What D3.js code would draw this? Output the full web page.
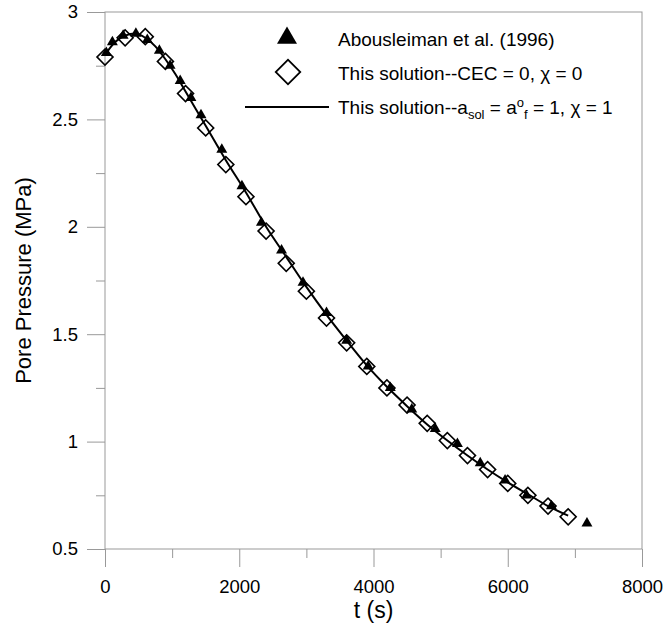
<!DOCTYPE html>
<html><head><meta charset="utf-8">
<script src="https://cdn.jsdelivr.net/npm/d3@7"></script>
<style>body{margin:0;background:#fff}svg{display:block;font-family:"Liberation Sans",Arial,sans-serif}</style>
</head><body><svg id="c" width="666" height="629"></svg>
<script>
// Data
const triT = [20, 110, 270, 460, 630, 810, 970, 1120, 1280, 1430, 1740, 2040, 2330, 2630, 2950, 3300, 3600, 3920, 4250, 4570, 4920, 5250, 5590, 5960, 6280, 6650, 7180];
const triP = [2.81, 2.86, 2.89, 2.90, 2.87, 2.82, 2.75, 2.68, 2.60, 2.52, 2.36, 2.19, 2.02, 1.89, 1.74, 1.60, 1.47, 1.35, 1.25, 1.15, 1.06, 0.99, 0.90, 0.82, 0.75, 0.70, 0.62];
const diaT = [0, 300, 600, 900, 1200, 1500, 1800, 2100, 2400, 2700, 3000, 3300, 3600, 3900, 4200, 4500, 4800, 5100, 5400, 5700, 6000, 6300, 6600, 6900];
const diaP = [2.79, 2.88, 2.885, 2.77, 2.62, 2.46, 2.29, 2.14, 1.98, 1.83, 1.70, 1.575, 1.46, 1.35, 1.25, 1.17, 1.085, 1.005, 0.935, 0.87, 0.805, 0.75, 0.70, 0.65];
const lineT = [0, 150, 300, 450, 600, 750, 900, 1050, 1200, 1500, 1800, 2100, 2400, 2700, 3000, 3300, 3600, 3900, 4200, 4500, 4800, 5100, 5400, 5700, 6000, 6300, 6600, 6900];
const lineP = [2.80, 2.86, 2.89, 2.90, 2.88, 2.84, 2.78, 2.71, 2.63, 2.47, 2.31, 2.16, 2.00, 1.86, 1.72, 1.59, 1.47, 1.355, 1.255, 1.165, 1.08, 1.005, 0.935, 0.87, 0.81, 0.755, 0.70, 0.655];
const xMajor = [0, 2000, 4000, 6000, 8000];
const xMinor = [1000, 3000, 5000, 7000];
const yMajor = [0.5, 1, 1.5, 2, 2.5, 3];
const yMinor = [0.75, 1.25, 1.75, 2.25, 2.75];

const svg = d3.select("#c");
const x = d3.scaleLinear().domain([0, 8000]).range([105, 642]);
const y = d3.scaleLinear().domain([0.5, 3]).range([549, 12]);
const grey = "#999";
const fs = 18.5;

// frame
svg.append("rect").attr("x", x(0)).attr("y", y(3)).attr("width", x(8000) - x(0)).attr("height", y(0.5) - y(3))
  .attr("fill", "none").attr("stroke", grey).attr("stroke-width", 1);

function styleAxis(g) {
  g.select(".domain").remove();
  g.selectAll("line").attr("stroke", grey);
  g.selectAll("text").attr("fill", "#000").style("font-size", fs + "px").style("font-family", '"Liberation Sans",Arial,sans-serif');
}
svg.append("g").attr("transform", `translate(0,${y(0.5)})`)
  .call(d3.axisBottom(x).tickValues(xMinor).tickSize(9).tickFormat(""))
  .call(styleAxis);
svg.append("g").attr("transform", `translate(0,${y(0.5)})`)
  .call(d3.axisBottom(x).tickValues(xMajor).tickSize(18).tickPadding(13).tickFormat(d3.format("d")))
  .call(styleAxis);
svg.append("g").attr("transform", `translate(${x(0)},0)`)
  .call(d3.axisLeft(y).tickValues(yMinor).tickSize(9).tickFormat(""))
  .call(styleAxis);
svg.append("g").attr("transform", `translate(${x(0)},0)`)
  .call(d3.axisLeft(y).tickValues(yMajor).tickSize(18).tickPadding(9).tickFormat(d => String(d)))
  .call(styleAxis);

// titles
svg.append("text").attr("x", (x(0) + x(8000)) / 2).attr("y", 618).attr("text-anchor", "middle")
  .style("font-size", "23px").text("t (s)");
svg.append("text").attr("transform", `translate(31,${(y(0.5) + y(3)) / 2}) rotate(-90)`).attr("text-anchor", "middle")
  .style("font-size", "22px").text("Pore Pressure (MPa)");

// series
const dia = diaT.map((t, i) => [t, diaP[i]]);
const tri = triT.map((t, i) => [t, triP[i]]);
const ln = lineT.map((t, i) => [t, lineP[i]]);

svg.append("g").selectAll("path").data(dia).join("path")
  .attr("d", d3.symbol(d3.symbolSquare, 128))
  .attr("transform", d => `translate(${x(d[0])},${y(d[1])}) rotate(45)`)
  .attr("fill", "none").attr("stroke", "#000").attr("stroke-width", 1.6);

svg.append("g").selectAll("path").data(tri).join("path")
  .attr("d", d3.symbol(d3.symbolTriangle, 52))
  .attr("transform", d => `translate(${x(d[0])},${y(d[1])})`)
  .attr("fill", "#000");

svg.append("path").datum(ln)
  .attr("d", d3.line().x(d => x(d[0])).y(d => y(d[1])).curve(d3.curveMonotoneX))
  .attr("fill", "none").attr("stroke", "#000").attr("stroke-width", 2);

// legend
const lg = svg.append("g");
lg.append("path").attr("d", d3.symbol(d3.symbolTriangle, 173)).attr("transform", "translate(287,38)").attr("fill", "#000");
lg.append("path").attr("d", d3.symbol(d3.symbolSquare, 300)).attr("transform", "translate(288,72) rotate(45)")
  .attr("fill", "none").attr("stroke", "#000").attr("stroke-width", 1.8);
lg.append("line").attr("x1", 245).attr("x2", 329).attr("y1", 107).attr("y2", 107).attr("stroke", "#000").attr("stroke-width", 2);

const lfs = "19px";
lg.append("text").attr("x", 338).attr("y", 46).style("font-size", lfs).text("Abousleiman et al. (1996)");
lg.append("text").attr("x", 338).attr("y", 80).style("font-size", lfs).text("This solution--CEC = 0, \u03C7 = 0");
const t3 = lg.append("text").attr("x", 338).attr("y", 114).style("font-size", lfs);
t3.append("tspan").text("This solution--a");
t3.append("tspan").attr("dy", 5).style("font-size", "13px").text("sol");
t3.append("tspan").attr("dy", -5).text(" = a");
t3.append("tspan").attr("dy", -7).style("font-size", "13px").text("o");
t3.append("tspan").attr("dy", 12).style("font-size", "13px").text("f");
t3.append("tspan").attr("dy", -5).text(" = 1, \u03C7 = 1");
</script></body></html>
